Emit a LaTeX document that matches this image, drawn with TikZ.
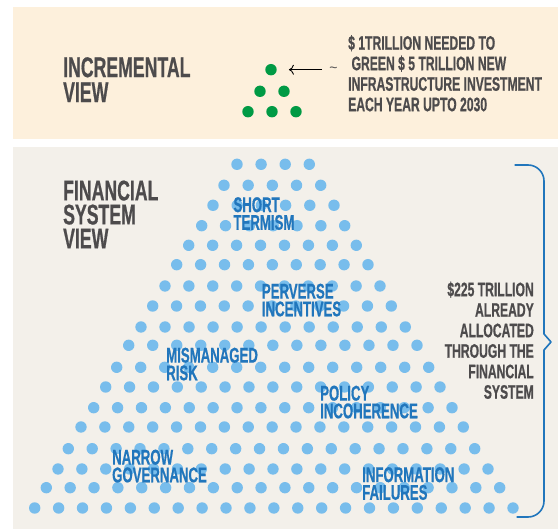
\documentclass[tikz,border=0pt]{standalone}
\usepackage{fontspec}
\usetikzlibrary{arrows.meta}
\setmainfont{Liberation Sans}
\newfontfamily\cond[FakeStretch=0.62,FakeBold=0.6]{Liberation Sans}
\definecolor{panelA}{HTML}{FDF0DC}
\definecolor{panelB}{HTML}{F3F0EA}
\definecolor{dotblue}{HTML}{78BDEC}
\definecolor{inkblue}{HTML}{2176BC}
\definecolor{inkdark}{HTML}{4D4B4C}
\definecolor{dotgreen}{HTML}{009A44}
\tikzset{
  bigt/.style={text=inkdark,font=\cond\bfseries\fontsize{28.5}{24}\selectfont,align=left,anchor=north west,inner sep=0pt},
  midt/.style={text=inkdark,font=\cond\bfseries\fontsize{19.6}{20.5}\selectfont,inner sep=0pt},
  bluet/.style={text=inkblue,font=\cond\bfseries\fontsize{21.3}{17.7}\selectfont,align=left,anchor=north west,inner sep=0pt},
  bd/.style={circle,fill=dotblue,minimum size=11.4pt,inner sep=0pt,draw=none},
  gd/.style={circle,fill=dotgreen,minimum size=11.4pt,inner sep=0pt,draw=none},
}
\begin{document}
\begin{tikzpicture}[x=1pt,y=-1pt]
\useasboundingbox (0,0) rectangle (558,529);
\fill[panelA] (13,7) rectangle (558,139);
\fill[panelB] (13,147) rectangle (558,529);
\foreach \ry/\rl/\rr/\rn in {
164.3/237/309.3/4,185.3/224/320.7/5,205.3/213/334/6,225.7/201.7/344.7/7,245.3/188.7/356.3/8,
264.7/176.7/368/9,286/165/380/10,306/152.7/391.3/11,327/141/405.3/12,345.3/128.7/417/13,
367.3/116.7/428.7/14,387/105.7/440/15,407.7/93.7/452/16,427/81/463.3/17,448.7/68.3/474.7/18,
469/58/488/19,487.7/46.3/499.7/20,508/34.7/513/21}{
  \pgfmathsetmacro{\rstep}{(\rr-\rl)/(\rn-1)}
  \foreach \ri in {1,...,\rn}{
    \pgfmathsetmacro{\rx}{\rl+(\ri-1)*\rstep}
    \node[bd] at (\rx,\ry) {};
  }
}
\node[gd] (g1) at (271,69.7) {};
\node[gd] (g2) at (260,91.3) {};
\node[gd] (g3) at (284,91.3) {};
\node[gd] (g4) at (248,111.7) {};
\node[gd] (g5) at (272,111.7) {};
\node[gd] (g6) at (296,111.7) {};
\node[bigt] (inc) at (63,57) {INCREMENTAL\\[1pt]VIEW};
\node[bigt] (fin) at (63,180.3) {FINANCIAL\\SYSTEM\\VIEW};
\node[midt,align=left,anchor=north west] (note) at (348,35) {\$ 1TRILLION NEEDED TO\\\ GREEN \$ 5 TRILLION NEW\\INFRASTRUCTURE INVESTMENT\\EACH YEAR UPTO 2030};
\node[text=inkdark,font=\fontsize{14}{14}\selectfont,inner sep=0pt] (tilde) at (333.5,69.5) {\char"007E};
\coordinate (arrowend) at (322,69.7);
\draw[black,line width=0.9pt,-{To[length=5pt,width=10pt]}] (arrowend) -- ([xshift=12pt]g1.east);
\node[bluet] (l1) at (233.3,197) {SHORT\\TERMISM};
\node[bluet] (l2) at (261.7,283.5) {PERVERSE\\INCENTIVES};
\node[bluet] (l3) at (166,347.5) {MISMANAGED\\RISK};
\node[bluet] (l4) at (320,385.5) {POLICY\\INCOHERENCE};
\node[bluet] (l5) at (112,449.5) {NARROW\\GOVERNANCE};
\node[bluet] (l6) at (362,467) {INFORMATION\\FAILURES};
\node[midt,align=right,anchor=north east] (big) at (534,281.5) {\$225 TRILLION\\ALREADY\hspace{4pt}\\ALLOCATED\\THROUGH THE\\FINANCIAL\hspace{4pt}\\SYSTEM};
\draw[inkblue,line width=1.6pt,line join=round] (514.5,165) -- (528,165) arc[start angle=-90,end angle=0,radius=16] -- (544,334) -- (551,342) -- (544,350) -- (544,501) arc[start angle=0,end angle=90,radius=16] -- (516.5,517);
\end{tikzpicture}
\end{document}
